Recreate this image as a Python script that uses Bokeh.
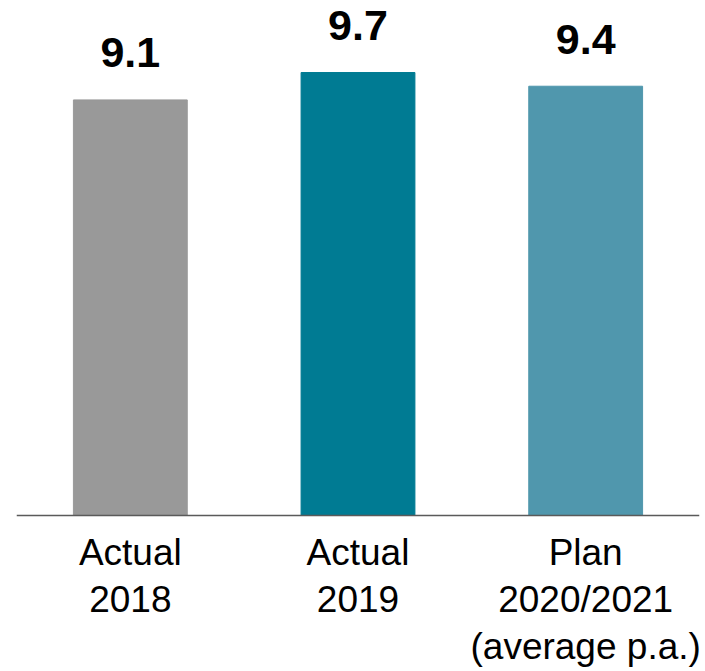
from bokeh.plotting import figure
from bokeh.models import ColumnDataSource, Range1d, Span
from bokeh.core.properties import value
from bokeh.embed import file_html
from bokeh.resources import INLINE

categories = ["Actual\n2018", "Actual\n2019", "Plan\n2020/2021\n(average p.a.)"]
values = [9.1, 9.7, 9.4]
labels = ["9.1", "9.7", "9.4"]
colors = ["#999999", "#007B93", "#5097AD"]

src = ColumnDataSource(dict(cat=categories, val=values, lab=labels, col=colors,
                            base=[0] * len(categories)))

p = figure(x_range=categories, y_range=Range1d(-3.416, 11.277), width=705, height=671,
           output_backend="svg", toolbar_location=None,
           min_border_left=16, min_border_right=6, min_border_top=0, min_border_bottom=0)

p.vbar(x="cat", top="val", bottom=0, width=0.5, color="col", source=src)
p.text(x="cat", y="val", text="lab", source=src, y_offset=-47,
       text_align="center", text_baseline="alphabetic",
       text_font=value("Liberation Sans"), text_font_style="bold",
       text_font_size="43px", text_color="#000000")

# category labels below the baseline
p.text(x="cat", y="base", text="cat", source=src, y_offset=17,
       text_align="center", text_baseline="top", text_line_height=1.14,
       text_font=value("Liberation Sans"), text_font_size="37px",
       text_color="#000000")

p.add_layout(Span(location=0, dimension="width", line_color="#5a5a5a", line_width=1.5))

p.xaxis.visible = False
p.yaxis.visible = False
p.xgrid.visible = False
p.ygrid.visible = False
p.outline_line_color = None

open("out.html", "w").write(file_html(p, INLINE))
